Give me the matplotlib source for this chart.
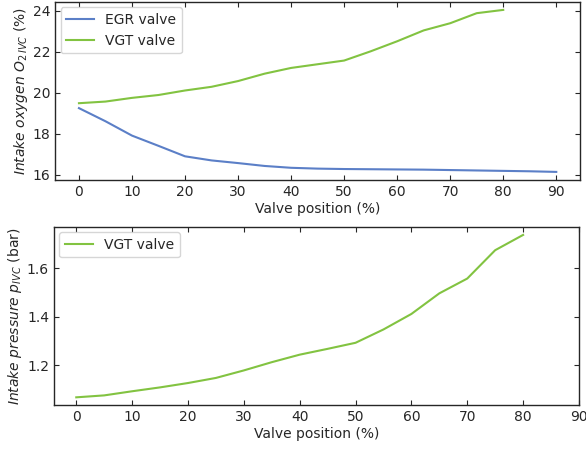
import matplotlib
matplotlib.use("Agg")
import matplotlib.pyplot as plt

# Top panel data
egr_x = [0, 5, 10, 15, 20, 25, 30, 35, 40, 45, 50, 55, 60, 65, 70, 75, 80, 85, 90]
egr_o2 = [19.24, 18.6, 17.9, 17.4, 16.89, 16.69, 16.56, 16.42, 16.33, 16.29, 16.27, 16.26, 16.25, 16.24, 16.22, 16.2, 16.18, 16.16, 16.13]
vgt_x = [0, 5, 10, 15, 20, 25, 30, 35, 40, 45, 50, 55, 60, 65, 70, 75, 80]
vgt_o2 = [19.48, 19.56, 19.74, 19.88, 20.1, 20.28, 20.56, 20.92, 21.2, 21.38, 21.56, 22.01, 22.5, 23.03, 23.38, 23.87, 24.03]
# Bottom panel data
vgt_p = [1.067, 1.075, 1.092, 1.108, 1.126, 1.147, 1.178, 1.212, 1.243, 1.267, 1.292, 1.347, 1.411, 1.496, 1.557, 1.674, 1.737]

xticks = [0, 10, 20, 30, 40, 50, 60, 70, 80, 90]

blue = "#5b7fc7"
green = "#82c341"
txt = "#262626"

plt.rcParams.update({
    "font.family": "DejaVu Sans",
    "font.size": 10,
    "mathtext.fontset": "dejavusans",
    "text.color": txt,
    "axes.labelcolor": txt,
    "xtick.color": txt,
    "ytick.color": txt,
    "xtick.direction": "in",
    "ytick.direction": "in",
    "xtick.top": True,
    "ytick.right": True,
})

fig = plt.figure(figsize=(5.86, 4.5), dpi=100)
ax1 = fig.add_axes([0.094, 0.600, 0.896, 0.396])
ax2 = fig.add_axes([0.092, 0.099, 0.896, 0.397])

ax1.plot(egr_x, egr_o2, color=blue, lw=1.5, label="EGR valve")
ax1.plot(vgt_x, vgt_o2, color=green, lw=1.5, label="VGT valve")
ax1.set_xticks(xticks)
ax1.set_yticks([16, 18, 20, 22, 24])
ax1.set_xlabel("Valve position (%)", labelpad=2)
ax1.set_ylabel(r"$Intake\ oxygen\ O_{2\,IVC}$ (%)", labelpad=2)
ax1.legend(loc="upper left", edgecolor="#cccccc", fancybox=True, handlelength=2.0,
           borderaxespad=0.4)

ax2.plot(vgt_x, vgt_p, color=green, lw=1.5, label="VGT valve")
ax2.set_xlim(-4, 90)
ax2.set_xticks(xticks)
ax2.set_yticks([1.2, 1.4, 1.6])
ax2.set_xlabel("Valve position (%)", labelpad=2)
ax2.set_ylabel(r"$Intake\ pressure\ p_{IVC}$ (bar)", labelpad=2)
ax2.legend(loc="upper left", edgecolor="#cccccc", fancybox=True, handlelength=2.0,
           borderaxespad=0.4)

for ax in (ax1, ax2):
    for s in ax.spines.values():
        s.set_color(txt)
        s.set_linewidth(1.0)

fig.savefig("out.png", dpi=100)
